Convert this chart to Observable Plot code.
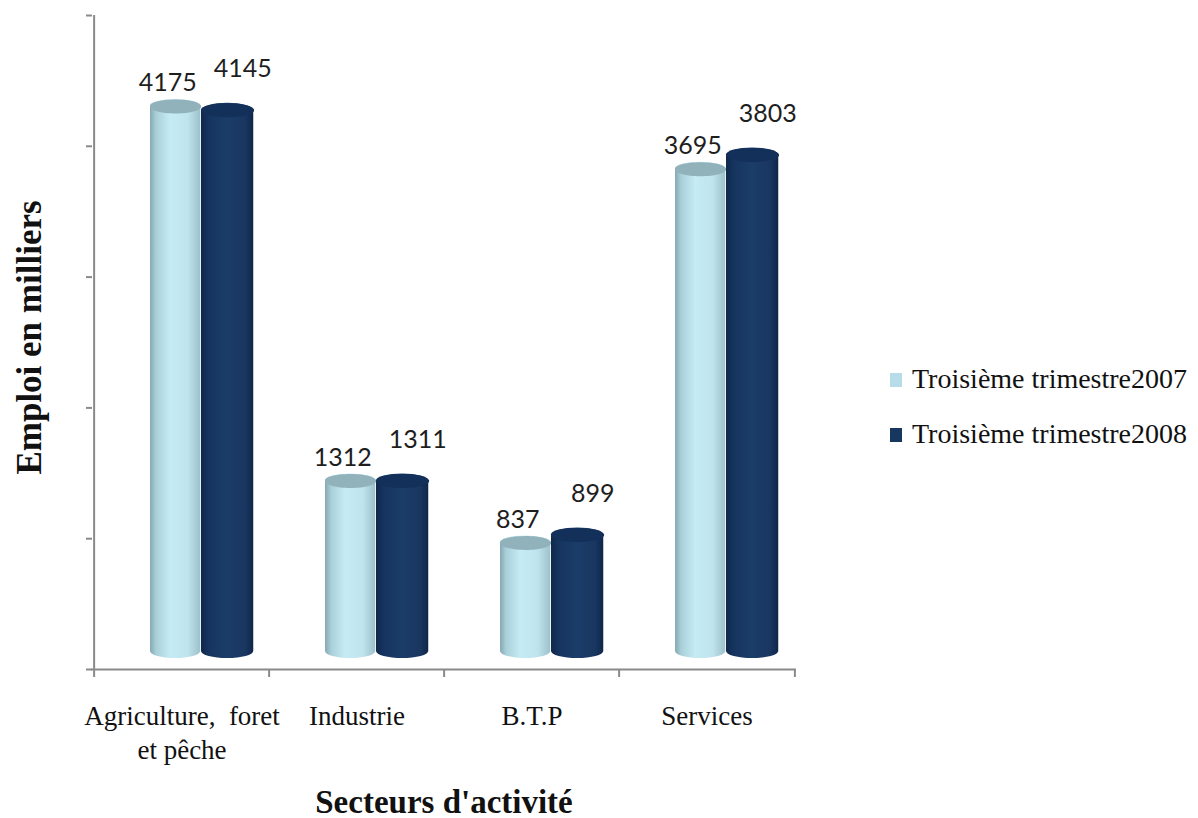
<!DOCTYPE html>
<html>
<head>
<meta charset="utf-8">
<script src="https://cdn.jsdelivr.net/npm/d3@7"></script>
<script src="https://cdn.jsdelivr.net/npm/@observablehq/plot@0.6"></script>
<style>
  html, body { margin: 0; padding: 0; background: #fff; }
  #wrap { position: relative; width: 1198px; height: 818px; }
  #legend { position: absolute; left: 890px; top: 364px; font-family: "Liberation Serif", "Times New Roman", serif; font-size: 28px; color: #111; }
  #legend .row { display: flex; align-items: center; height: 30px; margin-bottom: 25px; white-space: nowrap; }
  #legend .sw { width: 12px; height: 14px; margin-right: 10px; margin-top: 2px; }
</style>
</head>
<body>
<div id="wrap"><div id="legend"></div></div>
<script>
// ---- data ----
const sectors = ["Agriculture, foret et pêche", "Industrie", "B.T.P", "Services"];
const sectorLabels = ["Agriculture,  foret\net pêche", "Industrie", "B.T.P", "Services"];
const seriesNames = ["Troisième trimestre2007", "Troisième trimestre2008"];
const values2007 = [4175, 1312, 837, 3695];
const values2008 = [4145, 1311, 899, 3803];
const yTicks = [0, 1000, 2000, 3000, 4000, 5000];
const yDomain = [0, 5000];
const xTitle = "Secteurs d'activité";
const yTitle = "Emploi en milliers";

// ---- layout / style constants ----
const W = 1198, H = 818;
const mL = 92, mR = 403, mT = 15, mB = 149;
const bw = (W - mL - mR) / sectors.length;
const depth = 11;           // pseudo-3D depth offset (floor)
const lift = 13;            // pseudo-3D perspective lift of the top
const capRy = 7;
const axisGrey = "#8a8a8a";
const lightSolid = "#b7dde8", darkSolid = "#17375e";
const serif = '"Liberation Serif", "Times New Roman", serif';

const rows2007 = sectors.map((s, i) => ({sector: s, value: values2007[i]}));
const rows2008 = sectors.map((s, i) => ({sector: s, value: values2008[i]}));

const bars = [
  {rows: rows2007, left: 56, width: 51, fill: "url(#g2007)", cap: "#91b2bb", labelDx: -8, labelDy: -40},
  {rows: rows2008, left: 107, width: 53, fill: "url(#g2008)", cap: "#13305a", labelDx: 15, labelDy: -58}
];

function ellipse(rx, ry) {
  const k = 0.5523;
  return {draw(ctx) {
    ctx.moveTo(rx, 0);
    ctx.bezierCurveTo(rx, ry * k, rx * k, ry, 0, ry);
    ctx.bezierCurveTo(-rx * k, ry, -rx, ry * k, -rx, 0);
    ctx.bezierCurveTo(-rx, -ry * k, -rx * k, -ry, 0, -ry);
    ctx.bezierCurveTo(rx * k, -ry, rx, -ry * k, rx, 0);
    ctx.closePath();
  }};
}

function defs() {
  const ns = "http://www.w3.org/2000/svg";
  const d = document.createElementNS(ns, "defs");
  const grads = {
    g2007: [[0, "#86a8b1"], [0.12, "#a9cfd9"], [0.4, "#c5ebf4"], [0.75, "#bfe4ee"], [1, "#9dc1cb"]],
    g2008: [[0, "#10284a"], [0.15, "#163460"], [0.5, "#1c3d69"], [0.85, "#183660"], [1, "#10264a"]]
  };
  for (const [id, stops] of Object.entries(grads)) {
    const g = document.createElementNS(ns, "linearGradient");
    g.setAttribute("id", id);
    g.setAttribute("x1", "0"); g.setAttribute("x2", "1"); g.setAttribute("y1", "0"); g.setAttribute("y2", "0");
    for (const [o, c] of stops) {
      const s = document.createElementNS(ns, "stop");
      s.setAttribute("offset", o); s.setAttribute("stop-color", c);
      g.appendChild(s);
    }
    d.appendChild(g);
  }
  return d;
}

const marks = [defs];

for (const b of bars) {
  const centerDx = b.left + b.width / 2 - bw / 2;
  marks.push(
    Plot.barY(b.rows, {
      x: "sector", y: "value", fill: b.fill,
      insetLeft: b.left, insetRight: bw - b.left - b.width, insetTop: -lift,
      rx: b.width / 2, ry: capRy, dy: -depth
    }),
    Plot.dot(b.rows, {
      x: "sector", y: "value", fill: b.cap, r: 5,
      symbol: ellipse(b.width / 2, capRy), dx: centerDx, dy: -depth - lift + capRy
    }),
    Plot.text(b.rows, {
      x: "sector", y: "value", text: d => String(d.value),
      dx: centerDx + b.labelDx, dy: b.labelDy,
      fontFamily: "Lato, 'Open Sans', sans-serif", fontSize: 25, fill: "#1e1e1e"
    })
  );
}

// axes drawn as marks
marks.push(
  Plot.ruleY([0], {stroke: axisGrey, strokeWidth: 2, insetLeft: -1, insetRight: -1}),
  Plot.ruleX(sectors.slice(0, 1), {x: d => d, y1: yDomain[0], y2: yDomain[1], dx: -bw / 2, stroke: axisGrey, strokeWidth: 2}),
  Plot.ruleY(yTicks, {y: d => d, insetLeft: -6, insetRight: W - mL - mR, stroke: axisGrey, strokeWidth: 2}),
  Plot.ruleX(sectors, {x: d => d, y1: 0, y2: 0, insetBottom: -8, dx: -bw / 2, stroke: axisGrey, strokeWidth: 2}),
  Plot.ruleX(sectors.slice(-1), {x: d => d, y1: 0, y2: 0, insetBottom: -8, dx: bw / 2, stroke: axisGrey, strokeWidth: 2}),
  Plot.text(sectors, {
    x: d => d, text: (d, i) => sectorLabels[i], frameAnchor: "bottom", lineAnchor: "top",
    dy: 32, fontFamily: serif, fontSize: 27, lineHeight: 1.25, fill: "#111"
  }),
  Plot.text([xTitle], {text: d => d, frameAnchor: "bottom", lineAnchor: "bottom", dy: 143,
    fontFamily: serif, fontSize: 33, fontWeight: "bold", fill: "#111"}),
  Plot.text([yTitle], {text: d => d, frameAnchor: "left", textAnchor: "middle", lineAnchor: "middle",
    rotate: -90, dx: -63, dy: -5,
    fontFamily: serif, fontSize: 35, fontWeight: "bold", fill: "#111"})
);

const chart = Plot.plot({
  width: W, height: H,
  marginLeft: mL, marginRight: mR, marginTop: mT, marginBottom: mB,
  x: {domain: sectors, padding: 0, axis: null},
  y: {domain: yDomain, axis: null},
  style: {background: "white", fontFamily: serif},
  marks
});
document.getElementById("wrap").prepend(chart);

// legend
const legend = document.getElementById("legend");
[[seriesNames[0], lightSolid], [seriesNames[1], darkSolid]].forEach(([name, color]) => {
  const row = document.createElement("div");
  row.className = "row";
  const sw = document.createElement("span");
  sw.className = "sw"; sw.style.background = color;
  const t = document.createElement("span");
  t.textContent = name;
  row.appendChild(sw); row.appendChild(t);
  legend.appendChild(row);
});
</script>
</body>
</html>
